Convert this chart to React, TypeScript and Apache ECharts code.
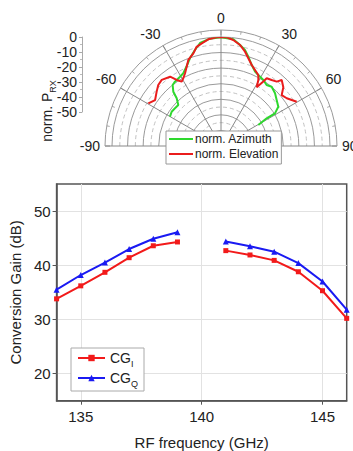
import React, { useEffect, useRef } from 'react';
import * as echarts from 'echarts';

// Polar pattern (angle in degrees, normalized received power in dB)
const EL_ANGLE = [-59.6, -55.1, -49.8, -45.8, -41.9, -36.3, -33.9, -31.4, -29.1, -26.3, -20.8, -16.6, -13.8, -10.6, -6.8, -2.3, 0.4, 3.0, 6.6, 10.7, 14.3, 17.3, 20.8, 24.1, 27.7, 29.5, 31.3, 33.3, 34.0, 37.5, 40.9, 42.6, 46.7, 50.0, 54.0, 59.7];
const EL_DB = [-15.9, -18.4, -15.9, -13.8, -13.0, -14.8, -18.9, -21.6, -20.2, -17.9, -10.9, -7.9, -4.4, -2.9, -1.0, -0.1, 0, -0.1, -1.5, -4.0, -7.5, -11.0, -14.4, -16.5, -18.5, -21.3, -25.9, -20.5, -17.5, -16.6, -15.3, -12.4, -15.0, -19.1, -17.8, -13.7];
const AZ_ANGLE = [-60.1, -55.2, -50.7, -46.2, -42.9, -41.3, -38.4, -35.6, -30.6, -27.4, -23.2, -19.4, -15.2, -11.5, -5.9, 0, 6.6, 10.7, 14.0, 17.0, 20.8, 24.6, 27.7, 32.7, 36.8, 40.5, 45.7, 50.4, 55.6, 58.8, 58.8, 60.6];
const AZ_DB = [-32.2, -31.4, -31.8, -32.0, -28.2, -23.6, -20.0, -19.2, -18.3, -17.4, -14.1, -10.1, -6.1, -2.5, -0.7, -0.2, -1.0, -4.0, -6.4, -10.0, -14.4, -17.5, -18.5, -19.6, -21.1, -19.9, -21.5, -23.6, -25.4, -29.5, -35.7, -42.5];
const R_MIN = -70;
const R_MAX = 0;

// Conversion gain vs RF frequency
const FREQ = [134, 135, 136, 137, 138, 139, 140, 141, 142, 143, 144, 145, 146];
const CG_I = [33.8, 36.2, 38.7, 41.4, 43.6, 44.3, null, 42.7, 41.9, 40.9, 38.8, 35.3, 30.2];
const CG_Q = [35.5, 38.2, 40.5, 43.0, 44.9, 46.1, null, 44.4, 43.5, 42.5, 40.4, 37.0, 31.8];
const X_TICKS = [135, 140, 145];
const Y_TICKS = [20, 30, 40, 50];

const FONT = "'Liberation Sans', Arial, Helvetica, sans-serif";
const TXT = '#222';

export default function App() {
  const ref = useRef<HTMLDivElement>(null);
  useEffect(() => {
    const chart = echarts.init(ref.current!, null, { renderer: 'svg' });
    const m = { fontSize: 14, lineHeight: 14, verticalAlign: 'top', fontFamily: FONT, color: TXT };
    const s = { fontSize: 9, lineHeight: 9, padding: [8, 0, 0, 0], verticalAlign: 'top', fontFamily: FONT, color: TXT };
    const R0 = 109; // radius of 0 dB ring
    const span = R_MAX - R_MIN;
    const dashIn = (R0 * 5) / span;
    const dashOut = (R0 * (span - 5)) / span;
    const option: any = {
      animation: false,
      backgroundColor: '#fff',
      textStyle: { fontFamily: FONT },
      polar: [
        { center: [221, 146], radius: [0, R0] },
        { center: [221, 146], radius: [0, 116] },
        { center: [221, 146], radius: [dashIn, dashOut] },
      ],
      angleAxis: [
        { polarIndex: 0, type: 'value', min: -90, max: 90, startAngle: 180, endAngle: 0, clockwise: true, show: false },
        {
          polarIndex: 1, type: 'value', min: -90, max: 90, interval: 30, startAngle: 180, endAngle: 0, clockwise: true,
          axisLine: { show: true, lineStyle: { color: '#9a9a9a', width: 1 } },
          axisTick: { show: true, inside: true, length: 5, lineStyle: { color: '#9a9a9a' } },
          minorTick: { show: true, splitNumber: 3, length: 3, lineStyle: { color: '#aaa' } },
          splitLine: { show: true, lineStyle: { color: '#888', width: 1 } },
          axisLabel: { margin: 5, fontSize: 14, color: TXT, fontFamily: FONT },
        },
        { polarIndex: 2, type: 'value', min: -90, max: 90, startAngle: 180, endAngle: 0, clockwise: true, show: false },
      ],
      radiusAxis: [
        {
          polarIndex: 0, type: 'value', min: R_MIN, max: R_MAX, interval: 10,
          axisLine: { show: false }, axisTick: { show: false }, axisLabel: { show: false },
          splitLine: { show: true, lineStyle: { color: '#9a9a9a', width: 1 } },
        },
        { polarIndex: 1, type: 'value', min: 0, max: 1, show: false },
        {
          polarIndex: 2, type: 'value', min: 0, max: 6, interval: 1,
          axisLine: { show: false }, axisTick: { show: false }, axisLabel: { show: false },
          splitLine: { show: true, lineStyle: { color: '#c2c2c2', type: [4, 3], width: 1 } },
        },
      ],
      grid: [
        { left: 56, top: 184, width: 290.7, height: 216.7, show: true, borderColor: '#555', borderWidth: 1.5 },
        { left: 82, top: 37, width: 10, height: 75, show: false },
      ],
      xAxis: [
        {
          gridIndex: 0, type: 'value', min: 134, max: 146,
          axisLine: { show: true, lineStyle: { color: '#555', width: 1.5 } },
          axisTick: { show: true, length: 4, customValues: X_TICKS, lineStyle: { color: '#555' } },
          axisLabel: { customValues: X_TICKS, fontSize: 15, color: TXT, margin: 8, fontFamily: FONT },
          splitLine: { show: true, lineStyle: { color: '#e2e2e2', width: 1 } },
          name: 'RF frequency (GHz)', nameLocation: 'middle', nameGap: 34,
          nameTextStyle: { fontSize: 15, color: TXT, fontFamily: FONT },
        },
        { gridIndex: 1, type: 'value', min: 0, max: 1, show: false },
      ],
      yAxis: [
        {
          gridIndex: 0, type: 'value', min: 15, max: 55,
          axisLine: { show: true, lineStyle: { color: '#555', width: 1.5 } },
          axisTick: { show: true, length: 4, customValues: Y_TICKS, lineStyle: { color: '#555' } },
          axisLabel: { customValues: Y_TICKS, fontSize: 15, color: TXT, margin: 6, fontFamily: FONT },
          splitLine: { show: true, lineStyle: { color: '#e2e2e2', width: 1 } },
          name: 'Conversion Gain (dB)', nameLocation: 'middle', nameGap: 29, nameRotate: 90,
          nameTextStyle: { fontSize: 15, color: TXT, fontFamily: FONT },
        },
        {
          gridIndex: 1, type: 'value', min: -50, max: 0, interval: 10,
          axisLine: { show: true, lineStyle: { color: '#aaa' } },
          axisTick: { show: true, length: 3, lineStyle: { color: '#aaa' } },
          minorTick: { show: true, splitNumber: 2, length: 2, lineStyle: { color: '#bbb' } },
          axisLabel: { margin: 5, fontSize: 14, lineHeight: 14, color: TXT, fontFamily: FONT },
          splitLine: { show: false },
        },
      ],
      legend: [
        {
          data: ['norm. Azimuth', 'norm. Elevation'], orient: 'vertical', left: 166, top: 131,
          padding: [2, 3, 4, 3], itemGap: 3, itemWidth: 24, itemHeight: 2, icon: 'rect',
          borderColor: '#999', borderWidth: 1, backgroundColor: '#fff', borderRadius: 0,
          textStyle: { fontSize: 12, color: TXT, fontFamily: FONT, padding: [0, 0, 0, -3] },
        },
        {
          data: ['CGI', 'CGQ'], orient: 'vertical', left: 71, top: 348,
          padding: [3, 6, 3, 6], itemGap: 3, itemWidth: 27, itemHeight: 8,
          borderColor: '#aaa', borderWidth: 1, backgroundColor: '#fff', borderRadius: 0,
          formatter: (n: string) => (n === 'CGI' ? '{m|CG}{s|I}' : '{m|CG}{s|Q}'),
          textStyle: { fontSize: 14, color: TXT, fontFamily: FONT, rich: { m, s } },
        },
      ],
      graphic: [
        {
          type: 'text', x: 47, y: 111, rotation: Math.PI / 2,
          style: {
            text: '{m|norm. P}{s|RX}', rich: { m, s },
            align: 'center', verticalAlign: 'middle', fill: TXT,
          },
        },
      ],
      series: [
        {
          type: 'line', name: 'norm. Azimuth', coordinateSystem: 'polar', polarIndex: 0,
          data: AZ_DB.map((v, i) => [v, AZ_ANGLE[i]]), symbol: 'none',
          lineStyle: { color: '#2ed82e', width: 2 }, itemStyle: { color: '#2ed82e' }, z: 3,
        },
        {
          type: 'line', name: 'norm. Elevation', coordinateSystem: 'polar', polarIndex: 0,
          data: EL_DB.map((v, i) => [v, EL_ANGLE[i]]), symbol: 'none',
          lineStyle: { color: '#ea1c1c', width: 2 }, itemStyle: { color: '#ea1c1c' }, z: 4,
        },
        {
          type: 'line', name: 'CGI', xAxisIndex: 0, yAxisIndex: 0,
          data: FREQ.map((f, i) => [f, CG_I[i]]), symbol: 'rect', symbolSize: 5,
          lineStyle: { color: '#f21a1a', width: 2 }, itemStyle: { color: '#f21a1a' }, z: 3,
        },
        {
          type: 'line', name: 'CGQ', xAxisIndex: 0, yAxisIndex: 0,
          data: FREQ.map((f, i) => [f, CG_Q[i]]), symbol: 'triangle', symbolSize: 6,
          lineStyle: { color: '#1a1af2', width: 2 }, itemStyle: { color: '#1a1af2' }, z: 3,
        },
      ],
    };
    chart.setOption(option);
    return () => chart.dispose();
  }, []);
  return <div ref={ref} style={{ position: 'fixed', left: 0, top: 0, width: 353, height: 451 }} />;
}
